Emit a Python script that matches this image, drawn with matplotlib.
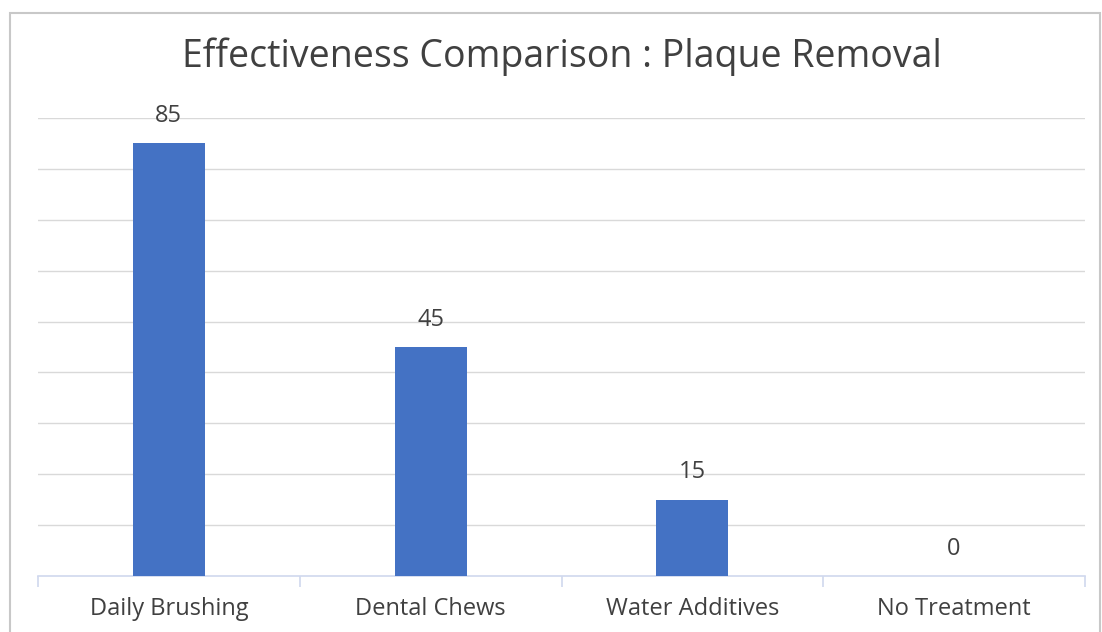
import matplotlib.pyplot as plt
from matplotlib.patches import Rectangle

categories = ["Daily Brushing", "Dental Chews", "Water Additives", "No Treatment"]
values = [85, 45, 15, 0]

plt.rcParams['font.family'] = ['Open Sans', 'DejaVu Sans']

fig = plt.figure(figsize=(11.02, 6.32), dpi=100)
fig.patches.append(Rectangle((10 / 1102, -0.01), 1090 / 1102, 1 - 13 / 632 + 0.01,
                             transform=fig.transFigure, fill=False,
                             edgecolor='#c8c8c8', linewidth=1.5))

ax = fig.add_axes([38 / 1102, 1 - 576 / 632, 1047 / 1102, (576 - 118) / 632])
x = range(len(categories))
bars = ax.bar(x, values, width=0.275, color='#4472C4', zorder=3)
for b, v in zip(bars, values):
    ax.text(b.get_x() + b.get_width() / 2, v + 3, str(v), ha='center', va='bottom',
            fontsize=17, color='#404040')

ax.set_xlim(-0.5, len(categories) - 0.5)
ax.set_ylim(0, 90)
ax.set_yticks(range(10, 100, 10))
ax.yaxis.grid(True, color='#d9d9d9', linewidth=1, zorder=0)
ax.tick_params(axis='y', length=0, labelleft=False)
ax.set_xticks(list(x))
ax.set_xticklabels(categories, fontsize=17, color='#404040')
ax.tick_params(axis='x', length=0, pad=15)
# category boundary ticks
ax.set_xticks([i - 0.5 for i in range(len(categories) + 1)], minor=True)
ax.tick_params(axis='x', which='minor', length=8, color='#d0d8ee', width=1.2)
for s in ['top', 'right', 'left']:
    ax.spines[s].set_visible(False)
ax.spines['bottom'].set_color('#d0d8ee')
ax.spines['bottom'].set_linewidth(1.2)

fig.text(562 / 1102, 1 - 57 / 632, "Effectiveness Comparison : Plaque Removal",
         ha='center', va='center', fontsize=27, color='#404040')

fig.savefig('out.png', dpi=100)
